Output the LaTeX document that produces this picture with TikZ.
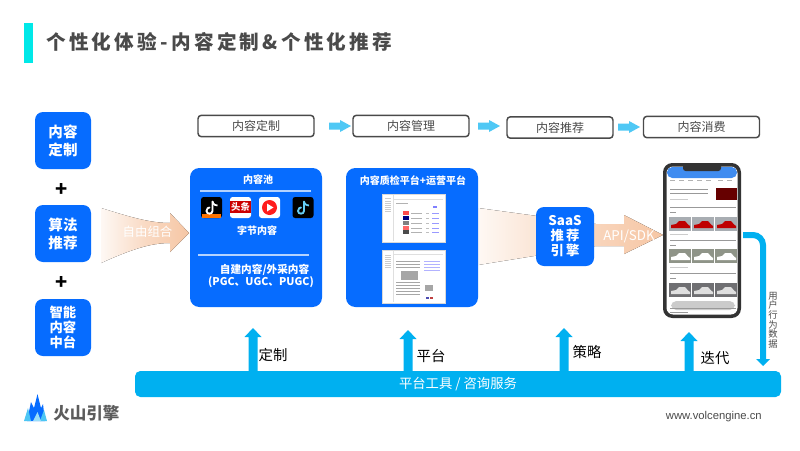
\documentclass[tikz,border=0pt]{standalone}
\usepackage{fontspec}
\setmainfont{Noto Sans CJK SC}
\newfontfamily\latinf{Liberation Sans}
\definecolor{bblue}{HTML}{066CFF}
\definecolor{sky}{HTML}{00B0F0}
\definecolor{lsky}{HTML}{4FC8F5}
\definecolor{dgrey}{HTML}{4A4A4A}
\definecolor{peach}{HTML}{F6C6A4}
\definecolor{titlebar}{HTML}{00E8E8}
\definecolor{phoneblue}{HTML}{3F8CF0}
\definecolor{carA}{HTML}{A8ADB2}
\definecolor{carB}{HTML}{8F9488}
\definecolor{carC}{HTML}{6F6F72}
\tikzset{
 x=0.75pt,y=-0.75pt,
 bluebox/.style={fill=bblue,rounded corners=6pt,text=white,align=center,inner sep=0pt,minimum width=42pt,minimum height=42.75pt},
 bigbox/.style={fill=bblue,rounded corners=7pt,inner sep=0pt,minimum width=99pt,minimum height=104.25pt},
 stepbox/.style={draw=dgrey,line width=1.1pt,rounded corners=2.5pt,fill=white,text=dgrey,font=\fontsize{9}{11}\selectfont,inner sep=0pt,minimum height=16pt},
 whitetxt/.style={text=white,align=center,font=\bfseries\fontsize{7.5}{10}\selectfont,inner sep=0pt},
 lab/.style={text=black,font=\fontsize{10.8}{12}\selectfont,inner sep=0pt},
 sep/.style={draw=white,opacity=.7,line width=1.2pt},
 shot/.style={fill=white,draw=black!15,line width=.4pt,inner sep=0pt},
 plus/.style={font=\bfseries\fontsize{15}{15}\selectfont,inner sep=0pt},
 thin/.style={line width=.35pt},
 phline/.style={draw=gray!80,line width=.6pt},
 phmeta/.style={draw=gray!40,line width=.6pt},
 fade/.style={left color=peach!12,right color=peach,middle color=peach!65},
}
\newcommand{\tiktokicon}[4]{%
 \fill[black,rounded corners=2pt] (#1-10.5,#2-10.5) rectangle (#1+10.5,#2+10.5);
 #4
 \draw[#3,line width=1.4pt,line cap=round] (#1+1,#2-6) -- (#1+1,#2+3.5) .. controls (#1+1,#2+7) and (#1-5,#2+7) .. (#1-5,#2+3.5) .. controls (#1-5,#2+1) and (#1-3,#2) .. (#1-2,#2);
 \draw[#3,line width=1.3pt] (#1+1,#2-6) .. controls (#1+2,#2-2.5) and (#1+4,#2-2) .. (#1+6,#2-2);
}
\newcommand{\carshape}[3]{%
 \fill[#3] (#1+2,#2+11) -- (#1+2,#2+8) -- (#1+7,#2+7) -- (#1+10,#2+4) -- (#1+16,#2+4) -- (#1+19,#2+7.5) -- (#1+21,#2+9) -- (#1+21,#2+11) -- cycle;
}
\begin{document}
\begin{tikzpicture}
\useasboundingbox (0,0) rectangle (800,450);
\fill[white] (0,0) rectangle (800,450);
% title
\fill[titlebar] (24,23) rectangle (33,63);
\node[anchor=west,text=dgrey,font=\bfseries\fontsize{14.7}{18}\selectfont,inner sep=0pt] (title) at (46,41.5) {个\,性\,化\,体\,验\,-\,内\,容\,定\,制\,\&\,个\,性\,化\,推\,荐};
% peach arrows
\fill[fade] (101,208) .. controls (130,217) and (150,223) .. (170,223) -- (170,213) -- (189,233) -- (170,252) -- (170,243) .. controls (150,243) and (130,250) .. (101,263) -- cycle;
\fill[fade] (478,208) -- (596,224) -- (624,224) -- (624,215) -- (663,235) -- (624,254) -- (624,246) -- (596,246) -- (478,265) -- cycle;
\node[text=white,font=\fontsize{9.3}{11}\selectfont,inner sep=0pt] (zy) at (147.5,232) {自由组合};
\node[text=white,font=\fontsize{10}{11}\selectfont,inner sep=0pt] (api) at (629,236) {API/SDK};
% left
\node[bluebox,font=\bfseries\fontsize{10.9}{13.5}\selectfont] (a1) at (63,140.5) {内容\\定制};
\node[bluebox,font=\bfseries\fontsize{10.9}{13.5}\selectfont] (a2) at (63,233.5) {算法\\推荐};
\node[bluebox,font=\bfseries\fontsize{10}{11}\selectfont] (a3) at (63,327.5) {智能\\内容\\中台};
\node[plus] (p1) at (62,189.5) {+};
\node[plus] (p2) at (62,282.5) {+};
% top steps
\node[stepbox,minimum width=87pt] (s1) at (256,126) {内容定制};
\node[stepbox,minimum width=87pt] (s2) at (411,126) {内容管理};
\node[stepbox,minimum width=79.5pt] (s3) at (560,127.5) {内容推荐};
\node[stepbox,minimum width=87pt] (s4) at (701.5,127) {内容消费};
\foreach \xa/\ya in {329/126,478/126,618/127}{
 \fill[lsky] (\xa,\ya-3.5) -- (\xa+11,\ya-3.5) -- (\xa+11,\ya-6) -- (\xa+22,\ya) -- (\xa+11,\ya+6) -- (\xa+11,\ya+3.5) -- (\xa,\ya+3.5) -- cycle;
}
% content pool
\node[bigbox] (pool) at (256,237.5) {};
\node[whitetxt] (t1) at (258,180) {内容池};
\draw[sep] (200,191) -- (311,191);
\draw[sep] (198,255) -- (309,255);
\tiktokicon{211.5}{207.5}{white}{\fill[orange!90!red] (202,214) -- (221,214) -- (221,218) -- (202,218) -- cycle;}
\fill[white,rounded corners=2pt] (230,197) rectangle (251,218);
\fill[red!80!black] (230,201) rectangle (251,213);
\node[text=white,font=\bfseries\fontsize{7}{8}\selectfont,inner sep=0pt] (tt) at (240.5,207) {头条};
\fill[white,rounded corners=2pt] (259,197) rectangle (280,218);
\fill[red!85!pink] (269.5,207.5) circle (7.5);
\fill[white] (267,203.5) -- (273.5,207.5) -- (267,211.5) -- cycle;
\tiktokicon{303}{207.5}{cyan!60!white}{}
\node[whitetxt] (t2) at (257,231) {字节内容};
\node[whitetxt,font=\bfseries\fontsize{8}{8.6}\selectfont] (t3) at (261,276) {\,\,\,\,自建内容/外采内容\\(PGC、UGC、PUGC)};
% platform
\node[bigbox] (plat) at (412,237.5) {};
\node[whitetxt] (t4) at (413,181) {内容质检平台+运营平台};
\node[shot,minimum width=47.25pt,minimum height=36pt] (sh1) at (413.5,218) {};
\node[shot,minimum width=47.25pt,minimum height=39.75pt] (sh2) at (413.5,276.5) {};
\foreach \yy/\cc in {213/red!70,218/blue!50!black,223/gray,228/red!60,232/black!70}{
 \fill[\cc] (403,\yy-2) rectangle (409,\yy+2);
 \draw[gray!60,thin] (411,\yy) -- (422,\yy);
 \draw[gray!50,thin] (426,\yy) -- (429,\yy);
 \draw[blue!40,thin] (432,\yy) -- (439,\yy);
}
\foreach \yy in {198,201,203,205,207,209,211}{\draw[gray!40,thin] (385,\yy) -- (391,\yy);}
\foreach \yy in {255,257,259,261,263,265,267}{\draw[gray!40,thin] (385,\yy) -- (391,\yy);}
\draw[gray!25,thin] (394,199) -- (443,199);
\draw[gray!25,thin] (393,195) -- (393,241);
\draw[gray!60,thin] (396,203) -- (408,203);
\fill[blue!50!white] (433,206) rectangle (437,208);
\draw[gray!25,thin] (394,254) -- (443,254);
\draw[gray!25,thin] (393,251) -- (393,302);
\foreach \yy in {261,264,267,282,285,288,291,294}{
 \draw[gray!70,thin] (396,\yy) -- (420,\yy);
}
\fill[gray!70] (401,271) rectangle (418,280);
\fill[gray!70] (425,285) rectangle (433,291);
\foreach \yy in {261,264,267,270}{\draw[blue!30,thin] (424,\yy) -- (440,\yy);}
\fill[blue!40!gray] (426,297) rectangle (429,299);
\fill[red!50!gray] (430,297) rectangle (433,299);
% saas
\node[bluebox,font=\bfseries\fontsize{10}{11.2}\selectfont,minimum width=43.5pt,minimum height=44.25pt] (saas) at (565,236.5) {SaaS\\推\,荐\\引\,擎};
% feedback arrow
\draw[sky,line width=4.5pt,rounded corners=7.5pt] (743,235) -- (763,235) -- (763,359);
\fill[sky] (756,359) -- (770,359) -- (763,366) -- cycle;
% phone
\fill[black!80,rounded corners=7pt] (663,163) rectangle (741,318);
\fill[white,rounded corners=5pt] (666.5,166.5) rectangle (737.5,314.5);
\fill[phoneblue,rounded corners=4pt] (667,167) rectangle (737,178);
\fill[black!80,rounded corners=2pt] (683,163) rectangle (721,171);
\foreach \xx in {670,679,688,697,706,718,727}{\draw[gray!60,line width=.8pt] (\xx,180.5) -- (\xx+5,180.5);}
\foreach \yy in {189,193}{\draw[phline] (670,\yy) -- (708,\yy);}
\draw[phmeta] (670,199.5) -- (688,199.5);
\fill[red!40!black] (716,188) rectangle (737,200);
\draw[phline] (670,207.5) -- (736,207.5);
\draw[phline] (670,212) -- (676,212);
\foreach \yy/\cc/\cr in {217/carA/red!75!black,249/carB/white,283/carC/gray!25}{
 \foreach \xx in {669,692,715}{
  \fill[\cc] (\xx,\yy) rectangle (\xx+22,\yy+14);
  \carshape{\xx}{\yy}{\cr}
 }
}
\draw[phmeta] (670,234) -- (688,234);
\draw[phline] (670,240.5) -- (736,240.5);
\draw[phline] (670,245) -- (676,245);
\draw[phmeta] (670,267) -- (688,267);
\draw[phline] (670,273.5) -- (736,273.5);
\draw[phline] (670,278) -- (676,278);
\fill[gray!50,rounded corners=4pt,opacity=.8] (671,301) rectangle (735,310);
\draw[phline] (670,308) -- (736,308);
\draw[phline] (670,312) -- (688,312);
% side label
\node[text=dgrey,align=center,font=\fontsize{7}{7.2}\selectfont,inner sep=0pt] (ub) at (773,320) {用\\户\\行\\为\\数\\据};
% bottom bar
\node[fill=sky,rounded corners=4pt,minimum width=484.5pt,minimum height=19.5pt,inner sep=0pt,text=white,font=\fontsize{10}{12}\selectfont] (bar) at (458,384) {平台工具 / 咨询服务};
\foreach \xx/\tip in {253/328,408/330,564/328,689/332}{
 \fill[sky] (\xx-4.5,371.5) -- (\xx-4.5,\tip+9) -- (\xx-8.5,\tip+9) -- (\xx,\tip) -- (\xx+8.5,\tip+9) -- (\xx+4.5,\tip+9) -- (\xx+4.5,371.5) -- cycle;
}
\node[lab] (c1) at (273,355) {定制};
\node[lab] (c2) at (431,356) {平台};
\node[lab] (c3) at (587,352) {策略};
\node[lab] (c4) at (715,358) {迭代};
% logo
\fill[bblue] (27,421) -- (31,402) -- (34,408) -- (37.5,394) -- (41,408) -- (43,404) -- (45,421) -- cycle;
\fill[cyan!70!white] (24,421) -- (28,408) -- (31,421) -- cycle;
\fill[cyan!70!white] (40,421) -- (44,410) -- (47,421) -- cycle;
\fill[cyan!40!white] (33,421) -- (37.5,412) -- (41,421) -- cycle;
\node[anchor=west,text=dgrey!90,font=\bfseries\fontsize{12.4}{14}\selectfont,inner sep=0pt] (logo) at (53,413) {火山引擎};
\node[anchor=east,text=dgrey,font=\latinf\fontsize{8.45}{9}\selectfont,inner sep=0pt] (url) at (762,417) {www.volcengine.cn};
\end{tikzpicture}
\end{document}
